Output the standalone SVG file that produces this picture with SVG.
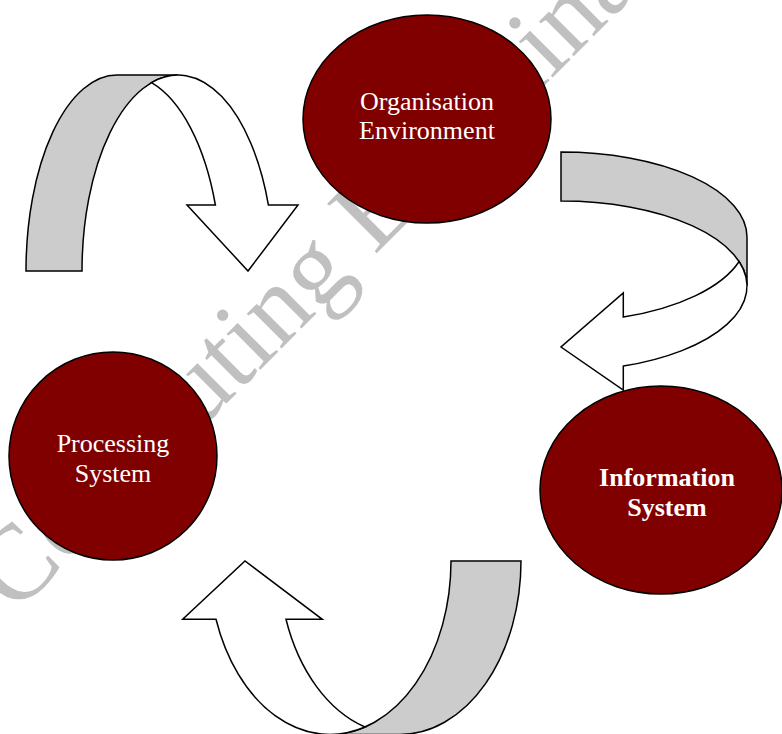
<svg xmlns="http://www.w3.org/2000/svg" width="782" height="734" viewBox="0 0 782 734">
  <style>
    .bg { fill: #ffffff; }
    .mark { fill: #c0c0c0; font-family: "Liberation Serif", "Times New Roman", serif; font-size: 107px; }
    .node { fill: #800000; stroke: #000000; stroke-width: 1.5; }
    .label { fill: #ffffff; font-family: "Liberation Serif", "Times New Roman", serif; font-size: 26px; text-anchor: middle; }
    .bold { font-weight: bold; }
    .back { fill: #cccccc; stroke: #000000; stroke-width: 1.5; stroke-linejoin: miter; }
    .front { fill: #ffffff; stroke: #000000; stroke-width: 1.5; stroke-linejoin: miter; }
  </style>

  <rect class="bg" x="0" y="0" width="782" height="734"/>

  <!-- background watermark -->
  <text class="mark" x="15" y="615" transform="rotate(-45 15 615)">Computing Examinations</text>

  <!-- curved ribbon arrows -->
  <g id="connectors">
    <!-- top-left: curved down arrow into the processing side -->
    <g id="arrow-down">
      <path class="back" d="M26,271 A91,196 0 0 1 117,75 L178,75 A96,196 0 0 0 82,271 Z"/>
      <path class="front" d="M151.5,82.6 A96,196 0 0 1 268.4,205 L298,205 L248,271 L187,205 L215.4,205 A96,196 0 0 0 151.5,82.6 Z"/>
    </g>
    <!-- right: curved left arrow from organisation to information -->
    <g id="arrow-left">
      <path class="back" d="M561,152 A186,85 0 0 1 747,237 L747,286 A186,85 0 0 0 561,201 Z"/>
      <path class="front" d="M739.1,261.5 A186,85 0 0 1 623.3,366.1 L623.3,390 L561,347 L623.3,293 L623.3,317.1 A186,85 0 0 0 739.1,261.5 Z"/>
    </g>
    <!-- bottom: curved up arrow towards processing -->
    <g id="arrow-up">
      <path class="back" d="M451,561 L521,561 A121,173.4 0 0 1 400,734.4 L330,734.4 A121,173.4 0 0 0 451,561 Z"/>
      <path class="front" d="M365,727 A121,173.4 0 0 1 216,619.3 L182.7,619.3 L245,561 L322.3,619.3 L286,619.3 A121,173.4 0 0 0 365,727 Z"/>
    </g>
  </g>

  <g id="organisation-environment">
    <ellipse class="node" cx="427" cy="119" rx="124" ry="104"/>
    <text class="label" x="427" y="110">Organisation</text>
    <text class="label" x="427" y="139">Environment</text>
  </g>

  <g id="processing-system">
    <ellipse class="node" cx="113" cy="456" rx="104" ry="104"/>
    <text class="label" x="113" y="452">Processing</text>
    <text class="label" x="113" y="482">System</text>
  </g>

  <g id="information-system">
    <ellipse class="node" cx="661" cy="490" rx="121" ry="104"/>
    <text class="label bold" x="667" y="486">Information</text>
    <text class="label bold" x="667" y="516">System</text>
  </g>
</svg>
